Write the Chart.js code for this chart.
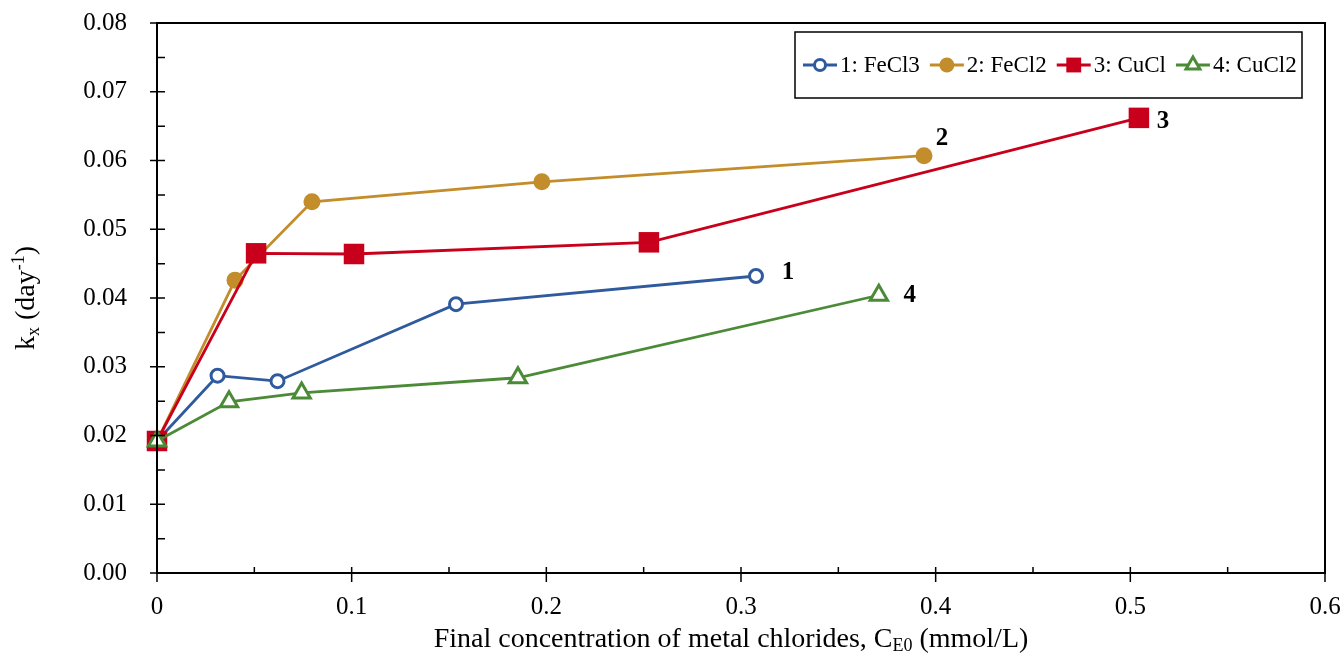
<!DOCTYPE html>
<html>
<head>
<meta charset="utf-8">
<title>k_x vs final concentration of metal chlorides</title>
<script src="https://cdn.jsdelivr.net/npm/chart.js@4/dist/chart.umd.min.js"></script>
<style>
  html, body { margin: 0; padding: 0; background: #fff; }
  #wrap { width: 1343px; height: 655px; position: relative; }
</style>
</head>
<body>
<div id="wrap"><canvas id="c"></canvas></div>
<script>
// Final concentration of metal chlorides, C_E0 (mmol/L)
const fecl3X = [0, 0.0311, 0.0619, 0.1536, 0.3077];
const fecl2X = [0, 0.0401, 0.0796, 0.1977, 0.3940];
const cuclX  = [0, 0.0509, 0.1012, 0.2527, 0.5044];
const cucl2X = [0, 0.0370, 0.0743, 0.1854, 0.3708];

// Rate constant k_x (day^-1)
const fecl3K = [0.0192, 0.0287, 0.0279, 0.0391, 0.0432];
const fecl2K = [0.0192, 0.0426, 0.0540, 0.0569, 0.0607];
const cuclK  = [0.0192, 0.0465, 0.0464, 0.0481, 0.0662];
const cucl2K = [0.0192, 0.0249, 0.0262, 0.0284, 0.0404];

const seriesLabels = ['1: FeCl3', '2: FeCl2', '3: CuCl', '4: CuCl2'];
const endTags = ['1', '2', '3', '4'];

const xTicks = [0, 0.1, 0.2, 0.3, 0.4, 0.5, 0.6];
const yTicks = [0, 0.01, 0.02, 0.03, 0.04, 0.05, 0.06, 0.07, 0.08];

const SERIF = '"Liberation Serif", "Times New Roman", serif';
const BLUE = '#2F5A9E', GOLD = '#C28D2A', RED = '#C8001B', GREEN = '#4B8A37';

const pts = (xs, ys) => xs.map((x, i) => ({ x: x, y: ys[i] }));

const styles = [
  { color: BLUE,  pointStyle: 'circle',   radius: 6.5,  bg: '#fff', bw: 3, tagDx: 32, tagDy: -3 },
  { color: GOLD,  pointStyle: 'circle',   radius: 8.5,  bg: GOLD,   bw: 0, tagDx: 18, tagDy: -17 },
  { color: RED,   pointStyle: 'rect',     radius: 14.5, bg: RED,    bw: 0, tagDx: 24, tagDy: 4 },
  { color: GREEN, pointStyle: 'triangle', radius: 10,   bg: '#fff', bw: 3, tagDx: 31, tagDy: 0 }
];
const xsAll = [fecl3X, fecl2X, cuclX, cucl2X];
const ysAll = [fecl3K, fecl2K, cuclK, cucl2K];

const datasets = styles.map((s, i) => ({
  label: seriesLabels[i],
  data: pts(xsAll[i], ysAll[i]),
  borderColor: s.color,
  backgroundColor: s.bg,
  borderWidth: 2.8,
  pointStyle: s.pointStyle,
  pointRadius: s.radius,
  pointHoverRadius: s.radius,
  pointBackgroundColor: s.bg,
  pointBorderColor: s.color,
  pointBorderWidth: s.bw,
  showLine: true,
  tension: 0,
  clip: false,
  order: 4 - i
}));

// Frame, tick marks, axis titles, legend box and end-of-series tags
const decorations = {
  id: 'decorations',
  afterDraw(chart) {
    const ctx = chart.ctx;
    const a = chart.chartArea;
    const xs = chart.scales.x, ys = chart.scales.y;
    ctx.save();
    ctx.strokeStyle = '#000';
    ctx.lineWidth = 2;
    ctx.lineCap = 'square';
    ctx.strokeRect(a.left, a.top, a.right - a.left, a.bottom - a.top);

    ctx.lineWidth = 1.5;
    ctx.lineCap = 'butt';
    ctx.beginPath();
    // y ticks: major at labelled values, minor halfway between
    yTicks.forEach((v, i) => {
      const py = ys.getPixelForValue(v);
      ctx.moveTo(a.left - 7, py); ctx.lineTo(a.left + 8, py);
      if (i < yTicks.length - 1) {
        const pm = ys.getPixelForValue((v + yTicks[i + 1]) / 2);
        ctx.moveTo(a.left, pm); ctx.lineTo(a.left + 8, pm);
      }
    });
    xTicks.forEach((v, i) => {
      const px = xs.getPixelForValue(v);
      ctx.moveTo(px, a.bottom + 9); ctx.lineTo(px, a.bottom - 6);
      if (i < xTicks.length - 1) {
        const pm = xs.getPixelForValue((v + xTicks[i + 1]) / 2);
        ctx.moveTo(pm, a.bottom); ctx.lineTo(pm, a.bottom - 6);
      }
    });
    ctx.stroke();

    // x axis title with subscript
    ctx.fillStyle = '#000';
    ctx.textBaseline = 'alphabetic';
    const big = '28px ' + SERIF, small = '18px ' + SERIF;
    const xParts = [
      { t: 'Final concentration of metal chlorides, C', f: big, dy: 0 },
      { t: 'E0', f: small, dy: 4 },
      { t: ' (mmol/L)', f: big, dy: 0 }
    ];
    const widthOf = parts => parts.reduce((w, p) => { ctx.font = p.f; return w + ctx.measureText(p.t).width; }, 0);
    const wx = widthOf(xParts);
    let cx = (a.left + a.right) / 2 - 10 - wx / 2;
    xParts.forEach(p => { ctx.font = p.f; ctx.textAlign = 'left'; ctx.fillText(p.t, cx, 647 + p.dy); cx += ctx.measureText(p.t).width; });

    // y axis title, rotated, with subscript and superscript
    const yParts = [
      { t: 'k', f: big, dy: 0 },
      { t: 'x', f: small, dy: 5 },
      { t: ' (day', f: big, dy: 0 },
      { t: '-1', f: small, dy: -10 },
      { t: ')', f: big, dy: 0 }
    ];
    const wy = widthOf(yParts);
    ctx.save();
    ctx.translate(34, (a.top + a.bottom) / 2);
    ctx.rotate(-Math.PI / 2);
    let cy = -wy / 2;
    yParts.forEach(p => { ctx.font = p.f; ctx.textAlign = 'left'; ctx.fillText(p.t, cy, p.dy); cy += ctx.measureText(p.t).width; });
    ctx.restore();

    // end-of-series tags
    ctx.font = 'bold 25px ' + SERIF;
    ctx.textAlign = 'center';
    ctx.textBaseline = 'middle';
    chart.data.datasets.forEach((ds, i) => {
      const meta = chart.getDatasetMeta(i);
      const last = meta.data[meta.data.length - 1];
      ctx.fillText(endTags[i], last.x + styles[i].tagDx, last.y + styles[i].tagDy);
    });

    // legend box
    const box = { x: 795, y: 32, w: 507, h: 66 };
    ctx.fillStyle = '#fff';
    ctx.fillRect(box.x, box.y, box.w, box.h);
    ctx.strokeStyle = '#000';
    ctx.lineWidth = 1.5;
    ctx.strokeRect(box.x, box.y, box.w, box.h);
    const ly = box.y + box.h / 2;
    let lx = 803;
    ctx.font = '23px ' + SERIF;
    ctx.textAlign = 'left';
    ctx.textBaseline = 'middle';
    chart.data.datasets.forEach((ds, i) => {
      const s = styles[i];
      ctx.strokeStyle = s.color;
      ctx.lineWidth = 2.8;
      ctx.beginPath(); ctx.moveTo(lx, ly); ctx.lineTo(lx + 34, ly); ctx.stroke();
      ctx.fillStyle = s.bg;
      ctx.strokeStyle = s.color;
      ctx.lineWidth = s.bw;
      Chart.helpers.drawPoint(ctx, {
        pointStyle: s.pointStyle,
        radius: s.pointStyle === 'rect' ? 10.5 : (s.pointStyle === 'circle' ? (s.bw ? 5.5 : 7.5) : 8),
        borderWidth: s.bw, rotation: 0
      }, lx + 17, ly);
      ctx.fillStyle = '#000';
      ctx.fillText(ds.label, lx + 37, ly + 1);
      lx += 37 + ctx.measureText(ds.label).width + 10;
    });
    ctx.restore();
  }
};

new Chart(document.getElementById('c'), {
  type: 'scatter',
  data: { datasets: datasets },
  plugins: [decorations],
  options: {
    responsive: true,
    maintainAspectRatio: false,
    animation: false,
    layout: { padding: { top: 23, right: 18, left: 0, bottom: 0 } },
    plugins: { legend: { display: false }, tooltip: { enabled: false } },
    scales: {
      x: {
        type: 'linear', min: 0, max: 0.6,
        afterBuildTicks: s => { s.ticks = xTicks.map(v => ({ value: v })); },
        afterFit: s => { s.height = 82; s.paddingLeft = 0; s.paddingRight = 0; },
        grid: { display: false, drawTicks: false },
        border: { display: false },
        ticks: {
          padding: 19, color: '#000',
          font: { family: SERIF, size: 25 },
          callback: v => (v === 0 ? '0' : (+v).toFixed(1))
        }
      },
      y: {
        type: 'linear', min: 0, max: 0.08,
        afterBuildTicks: s => { s.ticks = yTicks.map(v => ({ value: v })); },
        afterFit: s => { s.width = 157; s.paddingTop = 0; s.paddingBottom = 0; },
        grid: { display: false, drawTicks: false },
        border: { display: false },
        ticks: {
          padding: 30, color: '#000',
          font: { family: SERIF, size: 25 },
          callback: v => (+v).toFixed(2)
        }
      }
    }
  }
});
</script>
</body>
</html>
